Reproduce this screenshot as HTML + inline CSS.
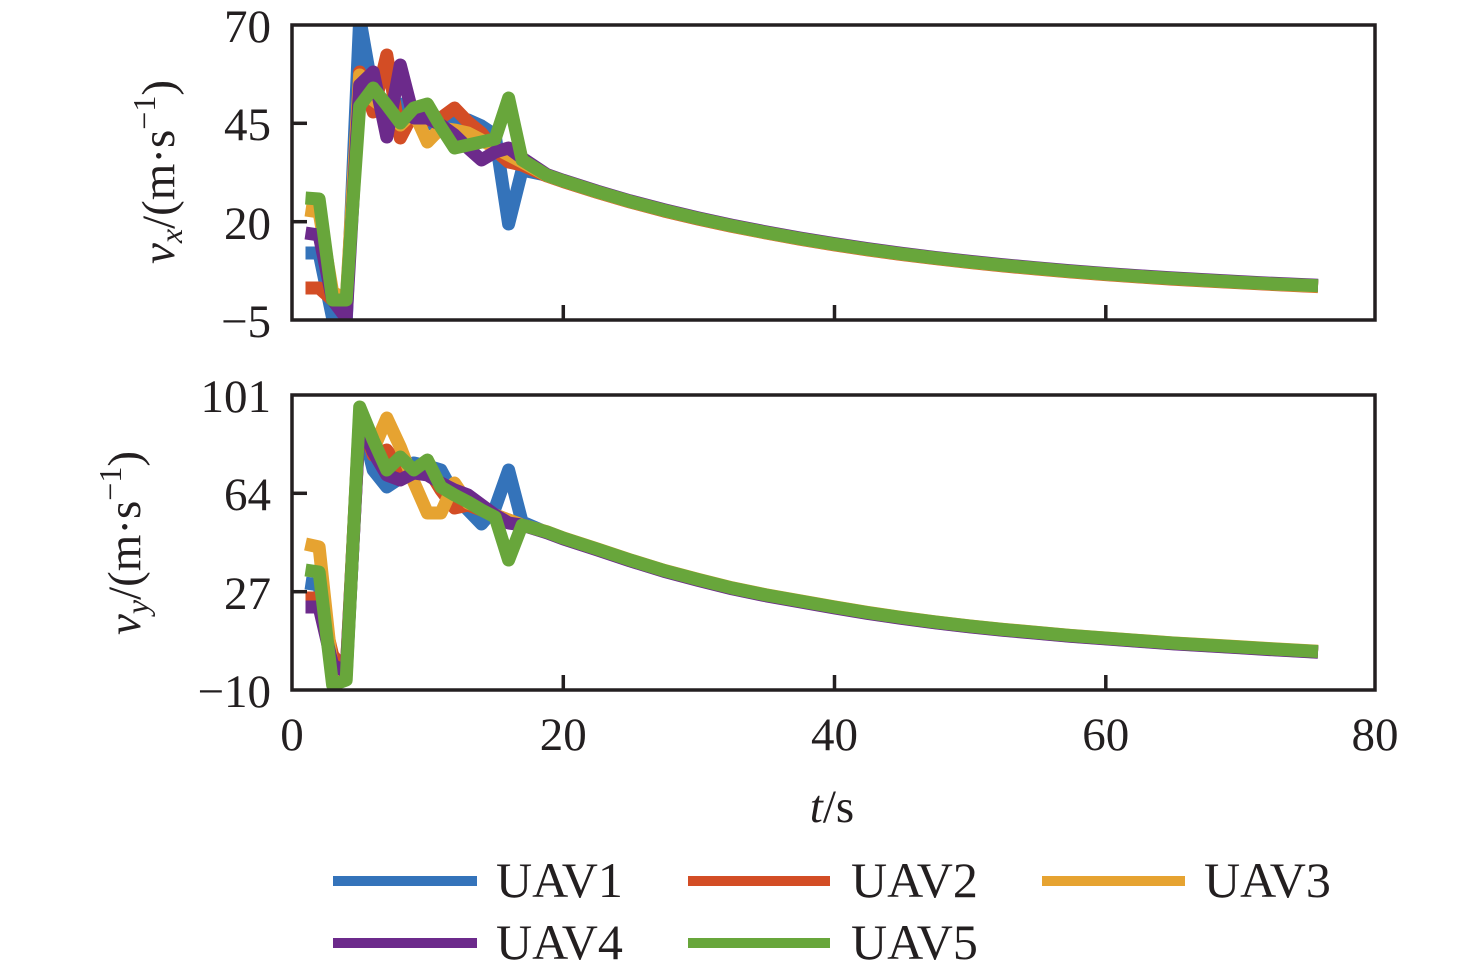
<!DOCTYPE html>
<html><head><meta charset="utf-8"><style>
html,body{margin:0;padding:0;background:#fff;}
svg{display:block;}
text{font-family:"Liberation Serif","Times New Roman",serif;fill:#231f20;}
</style></head><body>
<svg width="1476" height="976" viewBox="0 0 1476 976" xmlns="http://www.w3.org/2000/svg">
<defs>
<clipPath id="c1"><rect x="292" y="25" width="1083" height="295"/></clipPath>
<clipPath id="c2"><rect x="292" y="395" width="1083" height="295"/></clipPath>
</defs>
<rect width="1476" height="976" fill="#fff"/>

<!-- TOP PLOT DATA -->
<g clip-path="url(#c1)" fill="none" stroke-width="13" stroke-linejoin="round" stroke-linecap="butt">
<polyline stroke="#3473ba" points="305.5,253 319.1,253 332.6,318 346.2,322 359.7,18 373.2,95 386.8,108 400.3,104 413.8,115 427.4,124 440.9,122 454.5,119 468,120 481.5,126 495.1,135 508.6,224 522.1,170 547,175.3 563,180.8 597,191.7 630,201.4 664,210.3 698,218.4 732,225.8 766,232.5 800,238.6 834,244.2 867,249.2 901,253.8 935,258 969,261.8 1003,265.3 1037,268.4 1070,271.3 1104,273.9 1138,276.3 1172,278.5 1206,280.4 1240,282.2 1273,283.9 1318,285.8"/>
<polyline stroke="#d34d25" points="305.5,288 319.1,288 332.6,300 346.2,305 359.7,72 373.2,112 386.8,55 400.3,138 413.8,112 427.4,120 440.9,118 454.5,108 468,122 481.5,133 495.1,150 508.6,162 522.1,165 547,176 563,181.5 597,192.3 630,202 664,211 698,219 732,226.4 766,233 800,239.2 834,244.8 867,249.8 901,254.4 935,258.6 969,262.4 1003,265.9 1037,269 1070,271.9 1104,274.5 1138,276.9 1172,279.1 1206,281 1240,282.8 1273,284.5 1318,286.6"/>
<polyline stroke="#e6a331" points="305.5,210 319.1,212 332.6,292 346.2,300 359.7,75 373.2,100 386.8,110 400.3,125 413.8,112 427.4,142 440.9,128 454.5,130 468,133 481.5,140 495.1,148 508.6,155 522.1,162 547,175.6 563,181 597,191.9 630,201.6 664,210.5 698,218.6 732,226 766,232.7 800,238.8 834,244.4 867,249.4 901,254 935,258.2 969,262 1003,265.5 1037,268.6 1070,271.5 1104,274.1 1138,276.5 1172,278.7 1206,280.6 1240,282.4 1273,284.1 1318,286.2"/>
<polyline stroke="#6c2a8b" points="305.5,233 319.1,235 332.6,300 346.2,318 359.7,85 373.2,72 386.8,137 400.3,65 413.8,118 427.4,118 440.9,125 454.5,135 468,148 481.5,160 495.1,152 508.6,148 522.1,158 547,174.6 563,180.2 597,191.1 630,200.8 664,209.7 698,217.8 732,225.2 766,231.9 800,238 834,243.6 867,248.6 901,253.2 935,257.4 969,261.2 1003,264.7 1037,267.8 1070,270.7 1104,273.3 1138,275.7 1172,277.9 1206,279.8 1240,281.6 1273,283.3 1318,285.2"/>
<polyline stroke="#68a63b" points="305.5,198 319.1,199 332.6,300 346.2,300 359.7,106 373.2,88 386.8,105 400.3,123 413.8,108 427.4,104 440.9,127 454.5,148 468,145 481.5,142 495.1,139 508.6,98 522.1,160 547,175.3 563,180.8 597,191.7 630,201.4 664,210.3 698,218.4 732,225.8 766,232.5 800,238.6 834,244.2 867,249.2 901,253.8 935,258 969,261.8 1003,265.3 1037,268.4 1070,271.3 1104,273.9 1138,276.3 1172,278.5 1206,280.4 1240,282.2 1273,283.9 1318,285.8"/>
</g>

<!-- BOTTOM PLOT DATA -->
<g clip-path="url(#c2)" fill="none" stroke-width="13" stroke-linejoin="round" stroke-linecap="butt">
<polyline stroke="#3473ba" points="305.5,583 319.1,585 332.6,675 346.2,675 359.7,415 373.2,470 386.8,487 400.3,478 413.8,463 427.4,466 440.9,470 454.5,495 468,510 481.5,524 495.1,508 508.6,470 522.1,522 547,532.6 563,538.6 597,549.6 630,560.6 664,571 698,580 732,588.5 766,595.5 800,601.5 834,607.5 867,613 901,618 935,622.5 969,626.5 1003,630 1037,633 1070,636 1104,638.5 1138,641 1172,643.5 1206,645.5 1240,647.5 1273,649.5 1318,652"/>
<polyline stroke="#d34d25" points="305.5,598 319.1,598 332.6,655 346.2,672 359.7,415 373.2,455 386.8,450 400.3,468 413.8,472 427.4,468 440.9,490 454.5,508 468,505 481.5,510 495.1,515 508.6,520 522.1,525 547,532.4 563,538.4 597,549.4 630,560.4 664,570.9 698,579.9 732,588.4 766,595.4 800,601.4 834,607.4 867,612.9 901,617.9 935,622.4 969,626.4 1003,629.9 1037,632.9 1070,635.9 1104,638.4 1138,640.9 1172,643.4 1206,645.4 1240,647.4 1273,649.4 1318,651.9"/>
<polyline stroke="#e6a331" points="305.5,544 319.1,547 332.6,672 346.2,670 359.7,415 373.2,450 386.8,418 400.3,447 413.8,482 427.4,513 440.9,513 454.5,483 468,503 481.5,508 495.1,515 508.6,520 522.1,525 547,531.8 563,537.8 597,548.8 630,559.8 664,570.3 698,579.3 732,587.8 766,594.8 800,600.8 834,606.8 867,612.3 901,617.3 935,621.8 969,625.8 1003,629.3 1037,632.3 1070,635.3 1104,637.8 1138,640.3 1172,642.8 1206,644.8 1240,646.8 1273,648.8 1318,651.3"/>
<polyline stroke="#6c2a8b" points="305.5,607 319.1,607 332.6,665 346.2,672 359.7,418 373.2,452 386.8,475 400.3,480 413.8,473 427.4,475 440.9,483 454.5,490 468,495 481.5,505 495.1,515 508.6,523 522.1,525 547,532.8 563,538.8 597,549.8 630,560.8 664,571.3 698,580.3 732,588.8 766,595.8 800,601.8 834,607.8 867,613.3 901,618.3 935,622.8 969,626.8 1003,630.3 1037,633.3 1070,636.3 1104,638.8 1138,641.3 1172,643.8 1206,645.8 1240,647.8 1273,649.8 1318,652.3"/>
<polyline stroke="#68a63b" points="305.5,570 319.1,572 332.6,685 346.2,680 359.7,407 373.2,440 386.8,470 400.3,457 413.8,470 427.4,460 440.9,487 454.5,495 468,502 481.5,510 495.1,517 508.6,560 522.1,525 547,532 563,538 597,549 630,560 664,570.5 698,579.5 732,588 766,595 800,601 834,607 867,612.5 901,617.5 935,622 969,626 1003,629.5 1037,632.5 1070,635.5 1104,638 1138,640.5 1172,643 1206,645 1240,647 1273,649 1318,651.5"/>
</g>

<!-- AXES FRAMES -->
<g fill="none" stroke="#231f20" stroke-width="3.5">
<rect x="292" y="25" width="1083" height="295"/>
<rect x="292" y="395" width="1083" height="295"/>
</g>
<!-- TICKS -->
<g stroke="#231f20" stroke-width="3.5">
<line x1="292" y1="123.3" x2="307" y2="123.3"/>
<line x1="292" y1="221.7" x2="307" y2="221.7"/>
<line x1="563.3" y1="320" x2="563.3" y2="305"/>
<line x1="834.5" y1="320" x2="834.5" y2="305"/>
<line x1="1105.8" y1="320" x2="1105.8" y2="305"/>
<line x1="292" y1="493.3" x2="307" y2="493.3"/>
<line x1="292" y1="591.7" x2="307" y2="591.7"/>
<line x1="563.3" y1="690" x2="563.3" y2="675"/>
<line x1="834.5" y1="690" x2="834.5" y2="675"/>
<line x1="1105.8" y1="690" x2="1105.8" y2="675"/>
</g>

<!-- Y TICK LABELS -->
<g font-size="47" text-anchor="end">
<text x="271" y="42">70</text>
<text x="271" y="140">45</text>
<text x="271" y="239">20</text>
<text x="271" y="337">−5</text>
<text x="271" y="412">101</text>
<text x="271" y="510">64</text>
<text x="271" y="609">27</text>
<text x="271" y="707">−10</text>
</g>
<!-- X TICK LABELS -->
<g font-size="47" text-anchor="middle">
<text x="292" y="750">0</text>
<text x="563.3" y="750">20</text>
<text x="834.5" y="750">40</text>
<text x="1105.8" y="750">60</text>
<text x="1375" y="750">80</text>
</g>
<text x="832" y="822" font-size="47" text-anchor="middle"><tspan font-style="italic">t</tspan>/s</text>

<!-- Y LABELS -->
<text x="174" y="172" font-size="47" text-anchor="middle" transform="rotate(-90 174 172)"><tspan font-style="italic">v</tspan><tspan font-style="italic" font-size="32" dy="8">x</tspan><tspan dy="-8">/(m·s</tspan><tspan font-size="32" dy="-19">−1</tspan><tspan dy="19">)</tspan></text>
<text x="140" y="543" font-size="47" text-anchor="middle" transform="rotate(-90 140 543)"><tspan font-style="italic">v</tspan><tspan font-style="italic" font-size="32" dy="8">y</tspan><tspan dy="-8">/(m·s</tspan><tspan font-size="32" dy="-19">−1</tspan><tspan dy="19">)</tspan></text>

<!-- LEGEND -->
<g stroke-width="10" stroke-linecap="butt">
<line x1="333" y1="881" x2="477" y2="881" stroke="#3473ba"/>
<line x1="688" y1="881" x2="830" y2="881" stroke="#d34d25"/>
<line x1="1042" y1="881" x2="1185" y2="881" stroke="#e6a331"/>
<line x1="333" y1="943" x2="477" y2="943" stroke="#6c2a8b"/>
<line x1="688" y1="943" x2="830" y2="943" stroke="#68a63b"/>
</g>
<g font-size="50">
<text x="496" y="897">UAV1</text>
<text x="851" y="897">UAV2</text>
<text x="1204" y="897">UAV3</text>
<text x="496" y="959">UAV4</text>
<text x="851" y="959">UAV5</text>
</g>
</svg>
</body></html>
